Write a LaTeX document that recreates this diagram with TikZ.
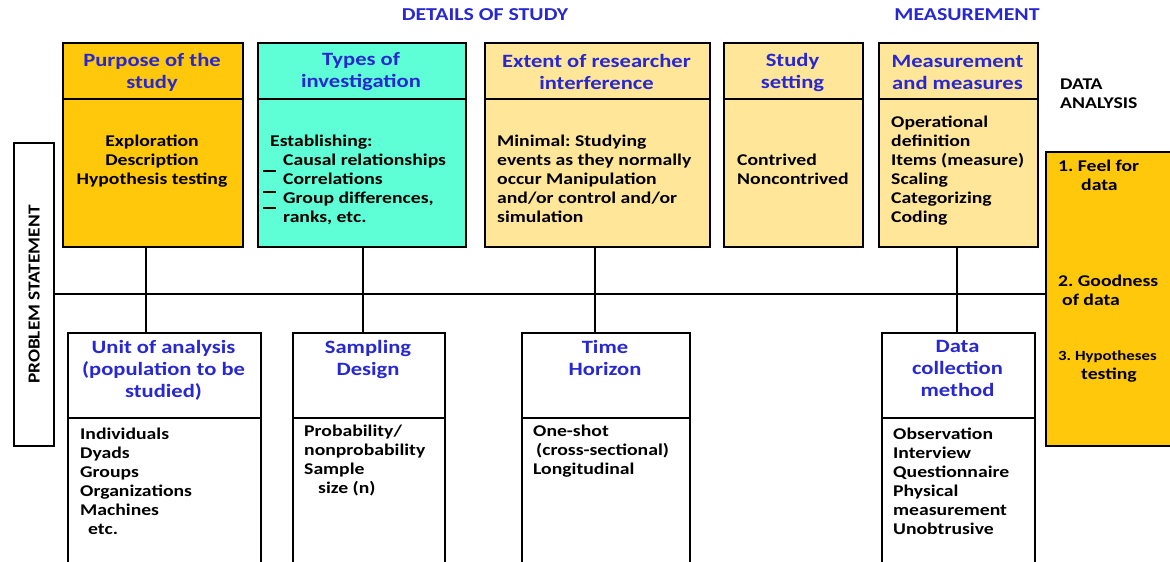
\documentclass[tikz,border=0pt]{standalone}
\usepackage{fontspec}
\frenchspacing
\newfontfamily\cf{Carlito}[FakeStretch=1.2]
\newfontfamily\cfr{Carlito}[FakeStretch=1.15]
\newcommand\hfont{\cf\bfseries\fontsize{18.8}{22}\selectfont}
\newcommand\bfont{\cf\bfseries\fontsize{16.4}{19}\selectfont}
\newcommand\sfont{\cf\bfseries\fontsize{14}{19}\selectfont}
\newcommand\tfont{\cf\bfseries\fontsize{18.2}{20}\selectfont}
\newcommand\pfont{\cfr\bfseries\fontsize{16.8}{20}\selectfont}
\definecolor{headblue}{RGB}{40,40,210}
\definecolor{deeporange}{RGB}{255,200,10}
\definecolor{aqua}{RGB}{94,255,214}
\definecolor{paleyellow}{RGB}{255,230,153}
\tikzset{
  frame/.style={draw=black, line width=2.4pt, inner sep=0pt, anchor=north west},
  divider/.style={line width=2.4pt},
  link/.style={line width=2.2pt},
  head/.style={font=\hfont, text=headblue, align=center, inner sep=0pt},
  body/.style={font=\bfont, align=left, inner sep=0pt, anchor=north west},
  title/.style={font=\tfont, text=headblue, inner sep=0pt},
  tick/.style={line width=2.2pt}
}
\begin{document}
\begin{tikzpicture}[x=1pt,y=-1pt]
\useasboundingbox (0,0) rectangle (1170,562);
\clip (0,0) rectangle (1170,562);
\fill[white] (0,0) rectangle (1170,562);

% section titles
\node[title] (tdet) at (485,15) {DETAILS OF STUDY};
\node[title] (tmeas) at (967,15) {MEASUREMENT};
\node[body] (tda) at (1060,79) {DATA\\ANALYSIS};

% spine linking problem statement and data analysis
\node[frame, minimum width=40pt, minimum height=303pt] (prob) at (13,142) {};
\node[font=\pfont, rotate=90, inner sep=0pt] (probtxt) at (prob.center) {PROBLEM STATEMENT};
\node[frame, fill=deeporange, minimum width=135pt, minimum height=294pt] (da) at (1045,151) {};
\draw[link] (prob.east |- 0,294) -- (da.west |- 0,294);

% upper row of boxes
\node[frame, fill=deeporange, minimum width=180pt, minimum height=204pt] (p1) at (62,42) {};
\node[frame, fill=aqua, minimum width=208pt, minimum height=204pt] (p2) at (257,42) {};
\node[frame, fill=paleyellow, minimum width=225pt, minimum height=204pt] (p3) at (484,42) {};
\node[frame, fill=paleyellow, minimum width=139pt, minimum height=204pt] (p4) at (723,42) {};
\node[frame, fill=paleyellow, minimum width=159pt, minimum height=204pt] (p5) at (878,42) {};
\foreach \b in {p1,p2,p3,p4,p5}
  \draw[divider] (\b.west |- 0,99) -- (\b.east |- 0,99);

% lower row of boxes
\node[frame, fill=white, minimum width=193pt, minimum height=250pt] (q1) at (67,332) {};
\node[frame, fill=white, minimum width=152pt, minimum height=250pt] (q2) at (292,332) {};
\node[frame, fill=white, minimum width=168pt, minimum height=250pt] (q3) at (521,332) {};
\node[frame, fill=white, minimum width=153pt, minimum height=250pt] (q5) at (881,332) {};
\foreach \b in {q1,q2,q3,q5}
  \draw[divider] (\b.west |- 0,418) -- (\b.east |- 0,418);

% vertical links through the spine
\coordinate (j1) at (146,294);
\coordinate (j2) at (363,294);
\coordinate (j3) at (595,294);
\coordinate (j5) at (957,294);
\draw[link] (p1.south -| j1) -- (q1.north -| j1);
\draw[link] (p2.south -| j2) -- (q2.north -| j2);
\draw[link] (p3.south -| j3) -- (q3.north -| j3);
\draw[link] (p5.south -| j5) -- (q5.north -| j5);

% upper headings
\node[head] (h1) at (152,72) {Purpose of the\\study};
\node[head] (h2) at (361,72) {Types of\\investigation};
\node[head] (h3) at (596.5,72) {Extent of researcher\\interference};
\node[head] (h4) at (792.5,72) {Study\\setting};
\node[head] (h5) at (957.5,72) {Measurement\\and measures};

% upper contents
\node[body, anchor=north, align=center] (b1) at (152,135) {Exploration\\Description\\Hypothesis testing};
\node[body] (b2) at (270,135) {Establishing:\\\hspace*{13pt}Causal relationships\\\hspace*{13pt}Correlations\\\hspace*{13pt}Group differences,\\\hspace*{13pt}ranks, etc.};
\draw[tick] (263,171) -- (276,171);
\draw[tick] (263,192) -- (276,192);
\draw[tick] (263,208) -- (276,208);
\node[body] (b3) at (497,135) {Minimal: Studying\\events as they normally\\occur Manipulation\\and/or control and/or\\simulation};
\node[body] (b4) at (737,154) {Contrived\\Noncontrived};
\node[body] (b5) at (891,116) {Operational\\definition\\Items (measure)\\Scaling\\Categorizing\\Coding};

% lower headings
\node[head, anchor=north] (g1) at (163.5,340) {Unit of analysis\\(population to be\\studied)};
\node[head, anchor=north] (g2) at (368,340) {Sampling\\Design};
\node[head, anchor=north] (g3) at (605,340) {Time\\Horizon};
\node[head, anchor=north] (g5) at (957.5,340) {Data\\collection\\method};

% lower contents
\node[body] (c1) at (80,428) {Individuals\\Dyads\\Groups\\Organizations\\Machines\\\hspace*{8pt}etc.};
\node[body] (c2) at (304,425) {Probability/\\nonprobability\\Sample\\\hspace*{14pt}size (n)};
\node[body] (c3) at (533,425) {One-shot\\\hspace*{3pt}(cross-sectional)\\Longitudinal};
\node[body] (c5) at (893,428) {Observation\\Interview\\Questionnaire\\Physical\\measurement\\Unobtrusive};

% data analysis steps
\node[body] (d1) at (1058,160) {1. Feel for\\\hspace*{23pt}data};
\node[body] (d2) at (1058,275) {2. Goodness\\\hspace*{4pt}of data};
\node[body, font=\sfont] (d3) at (1058,350) {3. Hypotheses\\\hspace*{23pt}\fontsize{16.4}{19}\selectfont testing};
\end{tikzpicture}
\end{document}
